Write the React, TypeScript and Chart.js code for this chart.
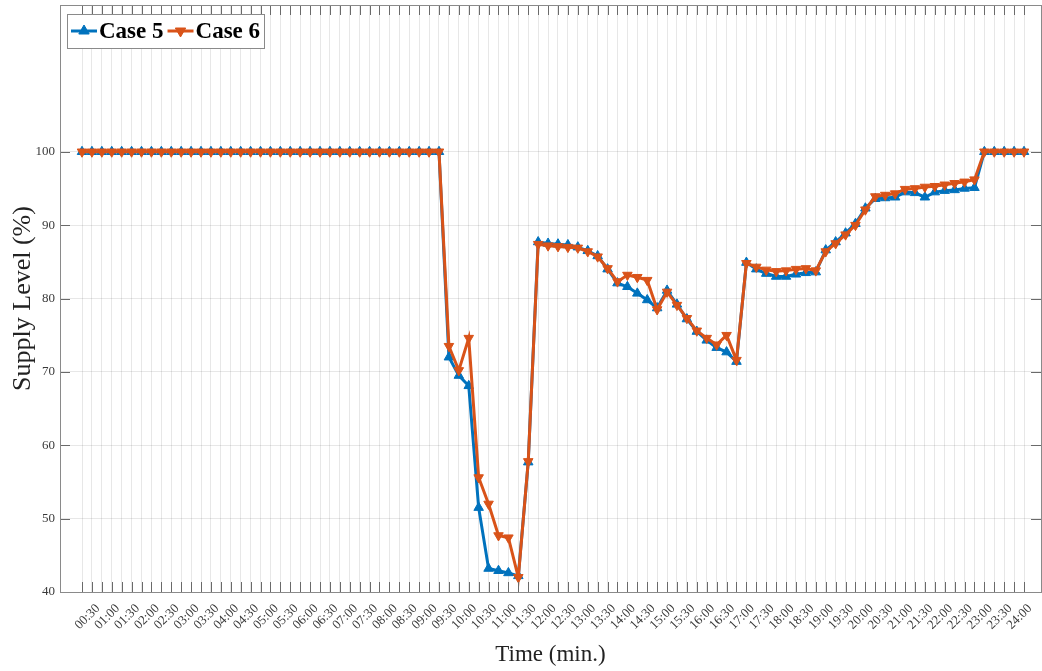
import React, { useEffect, useRef } from 'react';
import { Chart, registerables } from 'chart.js';

Chart.register(...registerables);

const timeLabels: string[] = [
  '00:15', '00:30', '00:45', '01:00', '01:15', '01:30', '01:45', '02:00',
  '02:15', '02:30', '02:45', '03:00', '03:15', '03:30', '03:45', '04:00',
  '04:15', '04:30', '04:45', '05:00', '05:15', '05:30', '05:45', '06:00',
  '06:15', '06:30', '06:45', '07:00', '07:15', '07:30', '07:45', '08:00',
  '08:15', '08:30', '08:45', '09:00', '09:15', '09:30', '09:45', '10:00',
  '10:15', '10:30', '10:45', '11:00', '11:15', '11:30', '11:45', '12:00',
  '12:15', '12:30', '12:45', '13:00', '13:15', '13:30', '13:45', '14:00',
  '14:15', '14:30', '14:45', '15:00', '15:15', '15:30', '15:45', '16:00',
  '16:15', '16:30', '16:45', '17:00', '17:15', '17:30', '17:45', '18:00',
  '18:15', '18:30', '18:45', '19:00', '19:15', '19:30', '19:45', '20:00',
  '20:15', '20:30', '20:45', '21:00', '21:15', '21:30', '21:45', '22:00',
  '22:15', '22:30', '22:45', '23:00', '23:15', '23:30', '23:45', '24:00',
];

const case5: number[] = [
  100, 100, 100, 100, 100, 100, 100, 100, 100, 100, 100, 100, 100, 100, 100, 100,
  100, 100, 100, 100, 100, 100, 100, 100, 100, 100, 100, 100, 100, 100, 100, 100,
  100, 100, 100, 100, 100,
  72.0, 69.5, 68.1, 51.5, 43.2, 42.9, 42.6, 42.2, 57.7,
  87.7, 87.5, 87.4, 87.3, 87.0, 86.5, 85.8, 84.0, 82.1, 81.6, 80.7, 79.8, 78.7,
  81.1, 79.2, 77.2, 75.5, 74.3, 73.3, 72.7, 71.4,
  84.9, 84.0, 83.4, 83.0, 83.0, 83.3, 83.5, 83.6,
  86.6, 87.7, 88.9, 90.2, 92.3, 93.6, 93.7, 93.8, 94.5, 94.4, 93.8, 94.5, 94.7,
  94.8, 95.0, 95.1,
  100, 100, 100, 100, 100,
];

const case6: number[] = [
  100, 100, 100, 100, 100, 100, 100, 100, 100, 100, 100, 100, 100, 100, 100, 100,
  100, 100, 100, 100, 100, 100, 100, 100, 100, 100, 100, 100, 100, 100, 100, 100,
  100, 100, 100, 100, 100,
  73.5, 70.2, 74.6, 55.6, 52.0, 47.7, 47.4, 42.0, 57.8,
  87.4, 87.2, 87.1, 87.0, 86.9, 86.4, 85.7, 84.1, 82.3, 83.2, 82.9, 82.5, 78.5,
  80.9, 79.1, 77.3, 75.6, 74.6, 73.7, 75.0, 71.6,
  84.8, 84.3, 83.9, 83.7, 83.8, 84.0, 84.1, 83.8,
  86.4, 87.5, 88.7, 90.0, 92.1, 93.9, 94.1, 94.3, 94.9, 95.0, 95.2, 95.3, 95.5,
  95.7, 95.9, 96.2,
  100, 100, 100, 100, 100,
];

const yTickValues: number[] = [40, 50, 60, 70, 80, 90, 100];

const seriesNames = ['Case 5', 'Case 6'];

const BLUE = '#0072BD';
const ORANGE = '#D95319';
const SERIF = '"Liberation Serif", "Times New Roman", serif';
const TEXT = '#3a3a3a';
const GRID = 'rgba(38,38,38,0.11)';
const AXIS = '#8a8a8a';
const LEGEND_FONT = `bold 23px ${SERIF}`;
const AREA_TOP = 5;
const AREA_RIGHT_GAP = 1;

const areaPlugin = {
  id: 'fixArea',
  afterLayout(chart: any) {
    const ca = chart.chartArea;
    const right = chart.width - AREA_RIGHT_GAP;
    ca.top = AREA_TOP;
    ca.right = right;
    ca.width = ca.right - ca.left;
    ca.height = ca.bottom - ca.top;
    const xs = chart.scales.x;
    xs.right = right;
    xs.width = xs.right - xs.left;
    xs.configure();
    const ys = chart.scales.y;
    ys.top = AREA_TOP;
    ys.height = ys.bottom - ys.top;
    ys.configure();
  },
};

const framePlugin = {
  id: 'matlabFrame',
  afterDraw(chart: any) {
    const { ctx, chartArea } = chart;
    const { left, right, top, bottom } = chartArea;
    ctx.save();
    // inward ticks
    ctx.strokeStyle = '#6a6a6a';
    ctx.lineWidth = 1;
    const xs = chart.scales.x;
    xs.ticks.forEach((t: any) => {
      const px = Math.round(xs.getPixelForValue(t.value)) + 0.5;
      ctx.beginPath();
      ctx.moveTo(px, bottom);
      ctx.lineTo(px, bottom - 10);
      ctx.moveTo(px, top);
      ctx.lineTo(px, top + 10);
      ctx.stroke();
    });
    const ys = chart.scales.y;
    ys.ticks.forEach((t: any) => {
      const py = Math.round(ys.getPixelForValue(t.value)) + 0.5;
      ctx.beginPath();
      ctx.moveTo(left, py);
      ctx.lineTo(left + 10, py);
      ctx.moveTo(right, py);
      ctx.lineTo(right - 10, py);
      ctx.stroke();
    });
    // box
    ctx.strokeStyle = AXIS;
    ctx.strokeRect(Math.round(left) + 0.5, Math.round(top) + 0.5, Math.round(right - left), Math.round(bottom - top));

    // legend
    const x0 = left + 7;
    const y0 = top + 9;
    const h = 34;
    ctx.font = LEGEND_FONT;
    const items = chart.data.datasets.map((d: any) => ({
      label: d.label,
      color: d.borderColor,
      rot: d.pointRotation || 0,
    }));
    let w = 4;
    items.forEach((it: any) => {
      w += 28 + ctx.measureText(it.label).width + 4;
    });
    ctx.fillStyle = '#ffffff';
    ctx.fillRect(x0, y0, w, h);
    ctx.strokeStyle = AXIS;
    ctx.strokeRect(Math.round(x0) + 0.5, Math.round(y0) + 0.5, Math.round(w), h);
    let cx = x0 + 4;
    const cy = y0 + h / 2;
    items.forEach((it: any) => {
      ctx.strokeStyle = it.color;
      ctx.lineWidth = 3;
      ctx.beginPath();
      ctx.moveTo(cx, cy);
      ctx.lineTo(cx + 26, cy);
      ctx.stroke();
      ctx.fillStyle = it.color;
      ctx.lineWidth = 1;
      const r = 6;
      const rad = (it.rot * Math.PI) / 180;
      ctx.beginPath();
      for (let k = 0; k < 3; k++) {
        const a = rad + (k * 2 * Math.PI) / 3;
        const px = cx + 13 + Math.sin(a) * r;
        const py = cy - Math.cos(a) * r;
        if (k === 0) ctx.moveTo(px, py);
        else ctx.lineTo(px, py);
      }
      ctx.closePath();
      ctx.fill();
      ctx.stroke();
      ctx.fillStyle = '#000000';
      ctx.textBaseline = 'middle';
      ctx.textAlign = 'left';
      ctx.font = LEGEND_FONT;
      ctx.fillText(it.label, cx + 28, cy + 1);
      cx += 28 + ctx.measureText(it.label).width + 4;
    });
    ctx.restore();
  },
};

export default function App() {
  const canvasRef = useRef<HTMLCanvasElement | null>(null);

  useEffect(() => {
    if (!canvasRef.current) return;
    const toPoints = (arr: number[]) => arr.map((v, i) => ({ x: i, y: v }));
    const chart = new Chart(canvasRef.current, {
      type: 'line',
      data: {
        datasets: [
          {
            label: seriesNames[0],
            data: toPoints(case5),
            borderColor: BLUE,
            backgroundColor: BLUE,
            borderWidth: 3,
            pointStyle: 'triangle',
            pointRadius: 5.5,
            pointBorderWidth: 1,
            pointRotation: 0,
            tension: 0,
            order: 2,
          } as any,
          {
            label: seriesNames[1],
            data: toPoints(case6),
            borderColor: ORANGE,
            backgroundColor: ORANGE,
            borderWidth: 3,
            pointStyle: 'triangle',
            pointRadius: 5.5,
            pointBorderWidth: 1,
            pointRotation: 180,
            tension: 0,
            order: 1,
          } as any,
        ],
      },
      options: {
        animation: false,
        responsive: true,
        maintainAspectRatio: false,
        layout: { padding: { top: 5, right: 1, left: 0, bottom: 0 } },
        plugins: {
          legend: { display: false },
          tooltip: { enabled: false },
        },
        scales: {
          x: {
            type: 'linear',
            min: -2.22,
            max: 96.71,
            afterBuildTicks: (axis: any) => {
              axis.ticks = timeLabels.map((_, i) => ({ value: i }));
            },
            afterFit: (s: any) => {
              s.height = 79;
            },
            ticks: {
              autoSkip: false,
              maxRotation: 45,
              minRotation: 45,
              padding: 9,
              labelOffset: 6,
              color: TEXT,
              font: { family: SERIF, size: 13 },
              callback: (v: any) => {
                const i = Math.round(Number(v));
                return i % 2 === 1 ? timeLabels[i] : '';
              },
            },
            grid: { color: GRID, drawTicks: false },
            border: { color: AXIS, width: 1 },
            title: {
              display: true,
              text: 'Time (min.)',
              color: '#222222',
              font: { family: SERIF, size: 23 },
              padding: { top: 0, bottom: 2 },
            },
          },
          y: {
            type: 'linear',
            min: 40,
            max: 120,
            afterBuildTicks: (axis: any) => {
              axis.ticks = yTickValues.map((v) => ({ value: v }));
            },
            afterFit: (s: any) => {
              s.width = 60;
            },
            ticks: {
              padding: 5,
              color: TEXT,
              font: { family: SERIF, size: 13 },
            },
            grid: { color: GRID, drawTicks: false },
            border: { color: AXIS, width: 1 },
            title: {
              display: true,
              text: 'Supply Level (%)',
              color: '#222222',
              font: { family: SERIF, size: 26 },
              padding: { top: 8, bottom: 0 },
            },
          },
        },
      },
      plugins: [areaPlugin, framePlugin],
    });
    return () => chart.destroy();
  }, []);

  return (
    <div style={{ position: 'fixed', left: 0, top: 0, width: 1042, height: 671, background: '#ffffff' }}>
      <canvas ref={canvasRef} />
    </div>
  );
}
